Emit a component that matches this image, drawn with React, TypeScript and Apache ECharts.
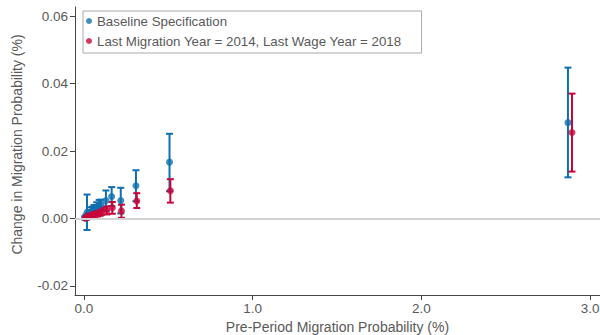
import React, { useEffect, useRef } from "react";
import * as echarts from "echarts";

const baseName = "Baseline Specification";
const altName = "Last Migration Year = 2014, Last Wage Year = 2018";

const xBase = [0.005, 0.012, 0.018, 0.03, 0.04, 0.05, 0.06, 0.075, 0.09, 0.1, 0.13, 0.164, 0.218, 0.308, 0.507, 2.869];
const yBase = [0.0002, 0.0004, 0.0018, 0.0012, 0.0018, 0.0022, 0.0025, 0.003, 0.0036, 0.0042, 0.0053, 0.0065, 0.0053, 0.0097, 0.0167, 0.0284];
const loBase = [-0.0003, -0.0004, -0.0034, 0.0, 0.0004, 0.0008, 0.001, 0.0013, 0.0018, 0.0028, 0.0023, 0.0037, 0.0015, 0.0051, 0.0081, 0.0122];
const hiBase = [0.0007, 0.0012, 0.0071, 0.0025, 0.0033, 0.0035, 0.004, 0.0048, 0.0055, 0.0056, 0.0083, 0.0093, 0.0091, 0.0143, 0.0251, 0.0447];

const xAlt = [0.007, 0.015, 0.025, 0.035, 0.045, 0.055, 0.065, 0.08, 0.095, 0.105, 0.135, 0.168, 0.222, 0.313, 0.512, 2.893];
const yAlt = [0.0001, 0.0003, 0.0008, 0.0007, 0.0011, 0.0012, 0.0014, 0.0016, 0.0018, 0.0022, 0.0024, 0.0032, 0.0022, 0.0052, 0.0082, 0.0255];
const loAlt = [-0.0002, -0.0003, 0.0, 0.0, 0.0003, 0.0004, 0.0005, 0.0006, 0.0008, 0.0011, 0.0012, 0.0014, 0.0002, 0.0031, 0.0047, 0.0139];
const hiAlt = [0.0004, 0.0009, 0.0016, 0.0014, 0.0019, 0.002, 0.0023, 0.0026, 0.0028, 0.0033, 0.0036, 0.0049, 0.0041, 0.0075, 0.01165, 0.037];

const xTicks = [0, 1, 2, 3];
const yTicks = [-0.02, 0, 0.02, 0.04, 0.06];

const BLUE = "#0f6fb0";
const RED = "#c8053a";
const TEXT = "#595959";
const FONT = "'Liberation Sans', Arial, sans-serif";

function errorSeries(name: string, xs: number[], lo: number[], hi: number[], color: string) {
  return {
    name,
    type: "custom",
    data: xs.map((x, i) => [x, lo[i], hi[i]]),
    encode: { x: 0, y: [1, 2] },
    renderItem: (params: any, api: any) => {
      const x = api.value(0);
      const top = api.coord([x, api.value(2)]);
      const bot = api.coord([x, api.value(1)]);
      const hw = 3.5;
      const style = { stroke: color, lineWidth: 2 };
      return {
        type: "group",
        children: [
          { type: "line", shape: { x1: top[0], y1: top[1], x2: bot[0], y2: bot[1] }, style },
          { type: "line", shape: { x1: top[0] - hw, y1: top[1], x2: top[0] + hw, y2: top[1] }, style },
          { type: "line", shape: { x1: bot[0] - hw, y1: bot[1], x2: bot[0] + hw, y2: bot[1] }, style },
        ],
      };
    },
    z: 2,
  };
}

export default function App() {
  const ref = useRef<HTMLDivElement>(null);
  useEffect(() => {
    document.body.style.margin = "0";
    const chart = echarts.init(ref.current!, null, { renderer: "svg" });
    chart.setOption({
      animation: false,
      textStyle: { fontFamily: FONT },
      grid: { left: 75, right: 0, top: 7, bottom: 40, containLabel: false, outerBoundsMode: "none" },
      legend: {
        data: [baseName, altName],
        orient: "vertical",
        left: 83,
        top: 11,
        itemWidth: 6,
        itemHeight: 6,
        itemGap: 0,
        icon: "circle",
        padding: [0, 20, 2, 3],
        borderColor: "#aaaaaa",
        borderWidth: 1,
        backgroundColor: "#fff",
        textStyle: { color: TEXT, fontSize: 13.3, lineHeight: 20, fontFamily: FONT },
      },
      xAxis: {
        type: "value",
        min: -0.0533,
        max: 3.059,
        name: "Pre-Period Migration Probability (%)",
        nameLocation: "middle",
        nameGap: 23,
        nameTextStyle: { color: TEXT, fontSize: 14, fontFamily: FONT },
        axisLine: { show: true, onZero: false, lineStyle: { color: "#444", width: 1 } },
        axisTick: { show: true, length: 5, customValues: xTicks, lineStyle: { color: "#444" } },
        axisLabel: { color: TEXT, fontSize: 13.5, margin: 6, customValues: xTicks, formatter: (v: number) => v.toFixed(1) },
        splitLine: { show: false },
      },
      yAxis: {
        type: "value",
        min: -0.02267,
        max: 0.06267,
        name: "Change in Migration Probability (%)",
        nameLocation: "middle",
        nameGap: 51,
        nameTextStyle: { color: TEXT, fontSize: 14, fontFamily: FONT, padding: [0, 0, 0, 13] },
        axisLine: { show: true, onZero: false, lineStyle: { color: "#444", width: 1 } },
        axisTick: { show: true, length: 5, customValues: yTicks, lineStyle: { color: "#444" } },
        axisLabel: { color: TEXT, fontSize: 13.5, margin: 7, customValues: yTicks, formatter: (v: number) => v.toFixed(2) },
        splitLine: { show: false },
      },
      series: [
        {
          name: "zero",
          type: "line",
          data: [],
          markLine: {
            silent: true,
            symbol: "none",
            label: { show: false },
            lineStyle: { color: "#d3d3d3", width: 2, type: "solid" },
            data: [{ yAxis: 0 }],
          },
          z: 1,
        },
        errorSeries(baseName + " CI", xBase, loBase, hiBase, BLUE),
        {
          name: baseName,
          type: "scatter",
          data: xBase.map((x, i) => [x, yBase[i]]),
          symbol: "circle",
          symbolSize: 7,
          itemStyle: { color: BLUE },
          z: 3,
        },
        errorSeries(altName + " CI", xAlt, loAlt, hiAlt, RED),
        {
          name: altName,
          type: "scatter",
          data: xAlt.map((x, i) => [x, yAlt[i]]),
          symbol: "circle",
          symbolSize: 7,
          itemStyle: { color: RED },
          z: 3,
        },
      ],
    });
    return () => chart.dispose();
  }, []);
  return <div ref={ref} style={{ width: 600, height: 335 }} />;
}
